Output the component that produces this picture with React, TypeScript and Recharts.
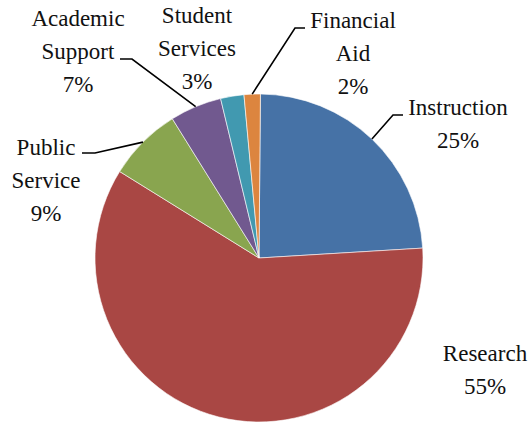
import { PieChart, Pie, Cell } from "recharts";

// spending categories, clockwise from 12 o'clock
const categories = [
  "Instruction",
  "Research",
  "Public Service",
  "Academic Support",
  "Student Services",
  "Financial Aid",
];
// slice sizes as drawn (percent)
const shares = [23.9, 59.8, 7.3, 5.1, 2.3, 1.6];
// percentage text printed next to each slice
const pctLabels = ["25%", "55%", "9%", "7%", "3%", "2%"];
// how each category name wraps
const nameLines = [
  ["Instruction"],
  ["Research"],
  ["Public", "Service"],
  ["Academic", "Support"],
  ["Student", "Services"],
  ["Financial", "Aid"],
];

const colors = ["#4672A6", "#A94744", "#89A54F", "#71598F", "#4199B0", "#DC853F"];

// label placement relative to pie centre: text centre + first baseline, optional leader elbow/end
const labelLayout = [
  { tx: 199, ty: -143, leader: [[134, -143], [144, -143]] },
  { tx: 226, ty: 103, leader: null },
  { tx: -213, ty: -103, leader: [[-164, -105], [-177, -105]] },
  { tx: -181, ty: -232, leader: [[-127, -199], [-139, -199]] },
  { tx: -62, ty: -235, leader: null },
  { tx: 94, ty: -230, leader: [[36, -230], [46, -230]] },
];

const data = categories.map((name, i) => ({ name, value: shares[i] }));

const LINE_H = 33;
const RAD = Math.PI / 180;
const FONT = "'Liberation Serif', 'Times New Roman', Times, 'DejaVu Serif', serif";

const renderLabel = (props: any) => {
  const { cx, cy, midAngle, outerRadius, index } = props;
  const lay = labelLayout[index];
  const lines = [...nameLines[index], pctLabels[index]];
  let leader = null;
  if (lay.leader) {
    const sx = cx + outerRadius * Math.cos(-midAngle * RAD);
    const sy = cy + outerRadius * Math.sin(-midAngle * RAD);
    const pts = [[sx, sy], ...lay.leader.map(([x, y]) => [cx + x, cy + y])];
    leader = (
      <polyline
        points={pts.map((p) => p.join(",")).join(" ")}
        fill="none"
        stroke="#000"
        strokeWidth={1.6}
      />
    );
  }
  return (
    <g>
      {leader}
      {lines.map((t, k) => (
        <text
          key={k}
          x={cx + lay.tx}
          y={cy + lay.ty + k * LINE_H}
          textAnchor="middle"
          fill="#111"
          fontFamily={FONT}
          style={{ fontFamily: FONT, fontSize: 23 }}
        >
          {t}
        </text>
      ))}
    </g>
  );
};

export default function App() {
  return (
    <div style={{ position: "absolute", left: 0, top: 0, background: "#fff", fontFamily: FONT }}>
      <PieChart width={531} height={422} margin={{ top: 0, right: 0, bottom: 0, left: 0 }}>
        <Pie
          data={data}
          dataKey="value"
          nameKey="name"
          cx={259}
          cy={258}
          outerRadius={164}
          startAngle={89.5}
          endAngle={-270.5}
          stroke="#ffffff"
          strokeWidth={0.6}
          label={renderLabel}
          labelLine={false}
          isAnimationActive={false}
        >
          {data.map((d, i) => (
            <Cell key={d.name} fill={colors[i]} />
          ))}
        </Pie>
      </PieChart>
    </div>
  );
}
